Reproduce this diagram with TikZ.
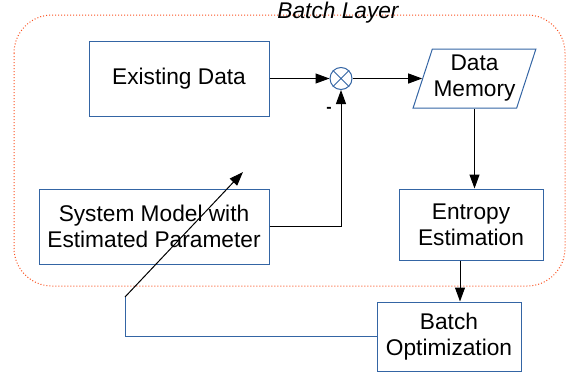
\documentclass[tikz,border=0pt]{standalone}
\usepackage{fontspec}
\setmainfont{Liberation Sans}
\usetikzlibrary{shapes.geometric,arrows.meta}
\definecolor{boxblue}{RGB}{52,101,164}
\definecolor{layerred}{RGB}{250,80,30}

\begin{document}
\begin{tikzpicture}[x=1pt,y=-1pt,line width=1pt,
		block/.style={draw=boxblue,rectangle,align=center,inner sep=0pt,font=\fontsize{22.7}{26}\selectfont},
		conn/.style={-{Triangle[length=14pt,width=10pt]}}]
		\useasboundingbox (0,0) rectangle (572,372);
		\draw[layerred,dash pattern=on 1pt off 2pt,rounded corners=38pt] (14,15) rectangle (565,286);
		\node[font=\itshape\fontsize{22.7}{26}\selectfont] (layer) at (338,13) {Batch Layer};
		\node[block,minimum width=180pt,minimum height=75pt] (exist) at (179,78.5) {Existing Data};
		\node[block,minimum width=230pt,minimum height=75pt] (sysmod) at (154,226.5) {System Model with\\Estimated Parameter};
		\node[draw=boxblue,circle,inner sep=0pt,minimum size=22pt] (mult) at (341,78.5) {};
		\draw[boxblue] (mult.45) -- (mult.225) (mult.135) -- (mult.315);
		\node[block,trapezium,trapezium left angle=68,trapezium right angle=112,trapezium stretches=true,minimum width=123pt,minimum height=59pt] (dmem) at (474.5,78.5) {Data\\Memory};
		\node[block,minimum width=144pt,minimum height=71pt] (entropy) at (471,224.5) {Entropy\\Estimation};
		\node[block,minimum width=144pt,minimum height=69pt] (batchopt) at (449,336.5) {Batch\\Optimization};
		\node[font=\bfseries\fontsize{16}{18}\selectfont] (minus) at (329,110) {-};
		\coordinate (fbk) at (125,297);
		\coordinate (tip) at (243,172);
		\draw[conn] (exist.east) -- (mult.west);
		\draw[conn] (mult) -- (dmem);
		\draw[conn] (sysmod.east) -| (mult.south);
		\draw[conn] (dmem.south) -- (dmem.south |- entropy.north);
		\draw[conn] ([xshift=-11pt]entropy.south) -- ([xshift=-11pt]entropy.south |- batchopt.north);
		\draw[boxblue] (batchopt.west) -| (fbk);
		\draw[conn] (fbk) -- (tip);
	\end{tikzpicture}
\end{document}
